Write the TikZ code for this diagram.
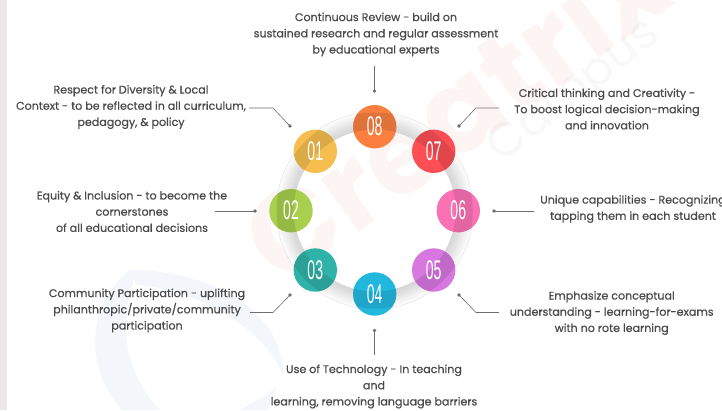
\documentclass[tikz,border=0pt]{standalone}
\usepackage{fontspec}
\setmainfont{Poppins}[FakeBold=0.6]
\newfontfamily\digitfont{Liberation Sans}
\newfontfamily\plainfont{Poppins}
\definecolor{txt}{HTML}{4A4A4A}
\definecolor{leader}{HTML}{6E6E6E}
\definecolor{strip}{HTML}{ECE6E6}
\definecolor{swoosh}{HTML}{F3F6FA}
\definecolor{wmred}{HTML}{E8453C}
\definecolor{cOne}{HTML}{F6BE4F}
\definecolor{cTwo}{HTML}{A8CF4E}
\definecolor{cThree}{HTML}{2FB3A8}
\definecolor{cFour}{HTML}{22B8DE}
\definecolor{cFive}{HTML}{D977E0}
\definecolor{cSix}{HTML}{FB72B4}
\definecolor{cSeven}{HTML}{FB4F55}
\definecolor{cEight}{HTML}{FB8040}
\tikzset{
  desc/.style={font=\fontsize{11.1}{16.2}\selectfont,text=txt,align=center,inner sep=0pt},
  leaderline/.style={draw=leader,line width=0.6pt},
  enddot/.style={circle,fill=leader,inner sep=0pt,minimum size=3.6pt},
  badge/.style={circle,inner sep=0pt,minimum size=43.4pt},
  digit/.style={text=white,inner sep=0pt,font=\digitfont\fontsize{27}{27}\selectfont},
}
\newcommand{\numtxt}[1]{\scalebox{0.52}[1]{#1}}
\newcommand{\badgeat}[4]{%
  \node[badge,fill=#3] (#4) at (#1) {};
  \begin{scope}
    \clip (#1) circle (21.7);
    \fill[black,opacity=0.10,even odd rule] (ringc) circle (81) (ringc) circle (98);
  \end{scope}
  \node[digit] at (#1) {\numtxt{#2}};
}
\begin{document}
\begin{tikzpicture}[x=1pt,y=-1pt]
\useasboundingbox (0,0) rectangle (722,410);
\fill[white] (0,0) rectangle (722,410);
\fill[strip] (0,0) rectangle (7,410);
% watermark
\begin{scope}
\clip (0,0) rectangle (722,410);
\fill[swoosh] (130,270) .. controls (85,305) and (85,370) .. (122,410) -- (160,410)
   .. controls (122,370) and (118,320) .. (137,270) -- cycle;
\fill[swoosh] (130,270) .. controls (210,270) and (283,310) .. (283,375)
   .. controls (265,330) and (200,290) .. (137,285) -- cycle;
\fill[swoosh] (277,387) .. controls (262,398) and (250,405) .. (240,410) -- (268,410) -- cycle;
\node[rotate=36,font=\plainfont\bfseries\fontsize{116}{116}\selectfont,text=wmred,text opacity=0.055,inner sep=0pt] (wmA) at (452,108) {Creatrix};
\node[rotate=38,font=\plainfont\fontsize{47}{47}\selectfont,text=gray,text opacity=0.05,inner sep=0pt] (wmB) at (575,93) {Campus};
\end{scope}
% ring
\coordinate (ringc) at (374.7,210.5);
\foreach \r/\g in {97.5/1,96.5/2,95.5/3,94.5/4,93.5/5,92.5/6,91.5/7,90.5/8,89.5/9,88.5/10,87.5/11,86.5/12,85.5/13,84.5/14,83.5/15,82.5/15,81.5/16}
  \draw[black!\g,line width=1.2pt] (ringc) circle (\r);
\draw[black!12,line width=0.4pt] (ringc) circle (98.5);
% badges
\badgeat{315.3,151.3}{01}{cOne}{b1}
\badgeat{291,210.7}{02}{cTwo}{b2}
\badgeat{315.3,270}{03}{cThree}{b3}
\badgeat{374.7,294}{04}{cFour}{b4}
\badgeat{433.7,270}{05}{cFive}{b5}
\badgeat{458.3,210.7}{06}{cSix}{b6}
\badgeat{433.7,151.3}{07}{cSeven}{b7}
\badgeat{374.7,126.7}{08}{cEight}{b8}
% labels
\node[desc] (t1) at (131,107) {Respect for Diversity \& Local\\Context - to be reflected in all curriculum,\\pedagogy, \& policy};
\node[desc] (t2) at (132,211.5) {Equity \& Inclusion - to become the\\cornerstones\\of all educational decisions};
\node[desc] (t3) at (147,310.5) {Community Participation - uplifting\\philanthropic/private/community\\participation};
\node[desc] (t4) at (374,386.5) {Use of Technology - In teaching\\and\\learning, removing language barriers};
\node[desc] (t5) at (611.7,313) {Emphasize conceptual\\understanding - learning-for-exams\\with no rote learning};
\node[desc] (t6) at (633,209) {Unique capabilities - Recognizing\\tapping them in each student};
\node[desc] (t7) at (607,109) {Critical thinking and Creativity -\\To boost logical decision-making\\and innovation};
\node[desc] (t8) at (376,34.5) {Continuous Review - build on\\sustained research and regular assessment\\by educational experts};
% leaders
\node[enddot] (d1) at (290,126) {};
\node[enddot] (d2) at (255,211) {};
\node[enddot] (d3) at (290,295) {};
\node[enddot] (d4) at (374.5,330.5) {};
\node[enddot] (d5) at (459,295) {};
\node[enddot] (d6) at (494,211) {};
\node[enddot] (d7) at (459,126) {};
\node[enddot] (d8) at (374.5,91) {};
\coordinate (s1) at (249,108);
\coordinate (s2) at (215,211);
\coordinate (s3) at (250,312.5);
\coordinate (s4) at (374.5,355);
\coordinate (s5) at (499,312.5);
\coordinate (s6) at (534,211);
\coordinate (s7) at (499,108);
\coordinate (s8) at (374.5,66);
\draw[leaderline] (s1) -- (273,108) -- (d1.center);
\draw[leaderline] (s2) -- (d2.center);
\draw[leaderline] (s3) -- (273,312.5) -- (d3.center);
\draw[leaderline] (s4) -- (d4.center);
\draw[leaderline] (s5) -- (476,312.5) -- (d5.center);
\draw[leaderline] (s6) -- (d6.center);
\draw[leaderline] (s7) -- (476,108) -- (d7.center);
\draw[leaderline] (s8) -- (d8.center);
\end{tikzpicture}
\end{document}
